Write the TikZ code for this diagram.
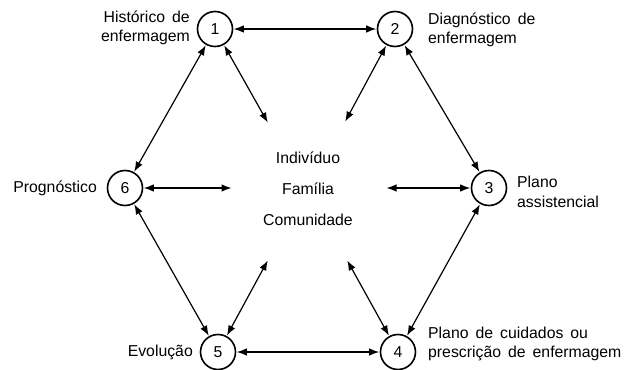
\documentclass[tikz,border=0pt]{standalone}
\usepackage{fontspec}
\setmainfont{Liberation Sans}[WordSpace=1.6]
\usetikzlibrary{arrows.meta}
\begin{document}
\begin{tikzpicture}[x=1pt,y=-1pt,
  every node/.style={font=\fontsize{15.8}{19.5}\selectfont, inner sep=0pt},
  stage/.style={draw, circle, line width=1.6pt, minimum size=35pt},
  lbl/.style={},
  link/.style={line width=1.2pt, {Latex[length=10pt,width=7.5pt]}-{Latex[length=10pt,width=7.5pt]}, shorten <=0.5pt, shorten >=0.5pt}]
\useasboundingbox (0,0) rectangle (625,370);
% stages
\node[stage] (s1) at (215,29) {1};
\node[stage] (s2) at (395,29) {2};
\node[stage] (s3) at (489,188) {3};
\node[stage] (s4) at (398,352) {4};
\node[stage] (s5) at (218,352) {5};
\node[stage] (s6) at (125,188) {6};
% labels
\node[lbl, anchor=east, align=right] (l1) at (190,28) {Histórico de\\enfermagem};
\node[lbl, anchor=west, align=left] (l2) at (428,30) {Diagnóstico de\\enfermagem};
\node[lbl, anchor=west, align=left] (l3) at (517,192) {Plano\\assistencial};
\node[lbl, anchor=west, align=left] (l4) at (428,344) {Plano de cuidados ou\\prescrição de enfermagem};
\node[lbl, anchor=east] (l5) at (193,352) {Evolução};
\node[lbl, anchor=east] (l6) at (97,188) {Prognóstico};
% centre
\node (ind) at (308,158) {Indivíduo};
\node (fam) at (308,189) {Família};
\node (com) at (308,220) {Comunidade};
% spoke ends
\coordinate (c1) at (268,123);
\coordinate (c2) at (345,122);
\coordinate (c3) at (386,188);
\coordinate (c4) at (347,260);
\coordinate (c5) at (268,260);
\coordinate (c6) at (232,188);
% hexagon
\draw[link] (s1) -- (s2);
\draw[link] (s2) -- (s3);
\draw[link] (s3) -- (s4);
\draw[link] (s4) -- (s5);
\draw[link] (s5) -- (s6);
\draw[link] (s6) -- (s1);
% spokes
\draw[link] (s1) -- (c1);
\draw[link] (s2) -- (c2);
\draw[link] (s3) -- (c3);
\draw[link] (s4) -- (c4);
\draw[link] (s5) -- (c5);
\draw[link] (s6) -- (c6);
\end{tikzpicture}
\end{document}
